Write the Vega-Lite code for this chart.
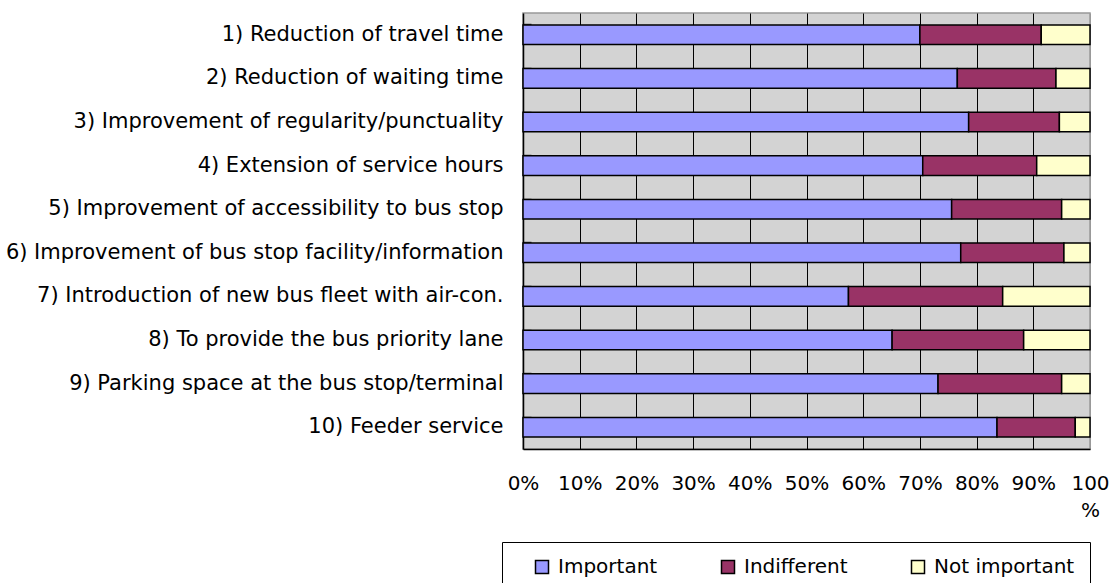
{
  "$schema": "https://vega.github.io/schema/vega-lite/v6.json",
  "autosize": "none",
  "width": 567,
  "height": 436,
  "padding": {"left": 523, "top": 13, "right": 22, "bottom": 134},
  "background": "white",
  "config": {
    "view": {"fill": "#d3d3d3", "stroke": "#999999", "strokeWidth": 1.5},
    "font": "DejaVu Sans"
  },
  "data": {
    "values": [
      {"item": "1) Reduction of travel time", "response": "Important", "k": 1, "pct": 70.0},
      {"item": "1) Reduction of travel time", "response": "Indifferent", "k": 2, "pct": 21.4},
      {"item": "1) Reduction of travel time", "response": "Not important", "k": 3, "pct": 8.6},
      {"item": "2) Reduction of waiting time", "response": "Important", "k": 1, "pct": 76.6},
      {"item": "2) Reduction of waiting time", "response": "Indifferent", "k": 2, "pct": 17.4},
      {"item": "2) Reduction of waiting time", "response": "Not important", "k": 3, "pct": 6.0},
      {"item": "3) Improvement of regularity/punctuality", "response": "Important", "k": 1, "pct": 78.6},
      {"item": "3) Improvement of regularity/punctuality", "response": "Indifferent", "k": 2, "pct": 16.0},
      {"item": "3) Improvement of regularity/punctuality", "response": "Not important", "k": 3, "pct": 5.4},
      {"item": "4) Extension of service hours", "response": "Important", "k": 1, "pct": 70.5},
      {"item": "4) Extension of service hours", "response": "Indifferent", "k": 2, "pct": 20.1},
      {"item": "4) Extension of service hours", "response": "Not important", "k": 3, "pct": 9.4},
      {"item": "5) Improvement of accessibility to bus stop", "response": "Important", "k": 1, "pct": 75.6},
      {"item": "5) Improvement of accessibility to bus stop", "response": "Indifferent", "k": 2, "pct": 19.4},
      {"item": "5) Improvement of accessibility to bus stop", "response": "Not important", "k": 3, "pct": 5.0},
      {"item": "6) Improvement of bus stop facility/information", "response": "Important", "k": 1, "pct": 77.2},
      {"item": "6) Improvement of bus stop facility/information", "response": "Indifferent", "k": 2, "pct": 18.2},
      {"item": "6) Improvement of bus stop facility/information", "response": "Not important", "k": 3, "pct": 4.6},
      {"item": "7) Introduction of new bus fleet with air-con.", "response": "Important", "k": 1, "pct": 57.4},
      {"item": "7) Introduction of new bus fleet with air-con.", "response": "Indifferent", "k": 2, "pct": 27.2},
      {"item": "7) Introduction of new bus fleet with air-con.", "response": "Not important", "k": 3, "pct": 15.4},
      {"item": "8) To provide the bus priority lane", "response": "Important", "k": 1, "pct": 65.1},
      {"item": "8) To provide the bus priority lane", "response": "Indifferent", "k": 2, "pct": 23.2},
      {"item": "8) To provide the bus priority lane", "response": "Not important", "k": 3, "pct": 11.7},
      {"item": "9) Parking space at the bus stop/terminal", "response": "Important", "k": 1, "pct": 73.2},
      {"item": "9) Parking space at the bus stop/terminal", "response": "Indifferent", "k": 2, "pct": 21.8},
      {"item": "9) Parking space at the bus stop/terminal", "response": "Not important", "k": 3, "pct": 5.0},
      {"item": "10) Feeder service", "response": "Important", "k": 1, "pct": 83.6},
      {"item": "10) Feeder service", "response": "Indifferent", "k": 2, "pct": 13.8},
      {"item": "10) Feeder service", "response": "Not important", "k": 3, "pct": 2.6}
    ]
  },
  "mark": {"type": "bar", "stroke": "black", "strokeWidth": 1.5, "opacity": 1},
  "encoding": {
    "y": {
      "field": "item",
      "type": "nominal",
      "sort": null,
      "scale": {"paddingInner": 0.55, "paddingOuter": 0.275},
      "axis": {
        "title": null,
        "bandPosition": 0,
        "domain": true,
        "domainColor": "black",
        "domainWidth": 1.5,
        "ticks": true,
        "tickSize": -8,
        "tickColor": "#333333",
        "tickWidth": 1.5,
        "labelPadding": 28,
        "labelFont": "DejaVu Sans",
        "labelFontSize": 21,
        "labelColor": "black",
        "labelLimit": 600,
        "grid": false
      }
    },
    "x": {
      "field": "pct",
      "type": "quantitative",
      "stack": "normalize",
      "scale": {"domain": [0, 1], "nice": false},
      "axis": {
        "title": null,
        "values": [0, 0.1, 0.2, 0.3, 0.4, 0.5, 0.6, 0.7, 0.8, 0.9, 1],
        "format": ".0%",
        "labelExpr": "datum.value >= 0.999 ? ['100', '%'] : datum.label",
        "labelFont": "DejaVu Sans",
        "labelFontSize": 20,
        "labelColor": "black",
        "labelLineHeight": 27,
        "labelPadding": 24,
        "labelFlush": false,
        "labelOverlap": false,
        "ticks": false,
        "domain": true,
        "domainColor": "black",
        "domainWidth": 1.5,
        "grid": true,
        "gridColor": {"condition": {"test": "datum.value >= 0.999 || datum.value <= 0.001", "value": "#999999"}, "value": "black"},
        "gridWidth": 1,
        "gridOpacity": 1
      }
    },
    "color": {
      "field": "response",
      "type": "nominal",
      "sort": ["Important", "Indifferent", "Not important"],
      "scale": {"domain": ["Important", "Indifferent", "Not important"], "range": ["#9999ff", "#993366", "#ffffcc"]},
      "legend": {
        "orient": "none",
        "legendX": -21,
        "legendY": 529,
        "direction": "horizontal",
        "columns": 3,
        "columnPadding": 60,
        "padding": 15,
        "strokeColor": "black",
        "fillColor": "white",
        "title": " ",
        "titleOrient": "left",
        "titleFontSize": 4,
        "titlePadding": 15,
        "symbolType": "square",
        "symbolSize": 169,
        "symbolStrokeColor": "black",
        "symbolStrokeWidth": 1.5,
        "symbolOpacity": 1,
        "labelOffset": 6,
        "labelFont": "DejaVu Sans",
        "labelFontSize": 20,
        "labelColor": "black",
        "labelLimit": 400,
        "labelExpr": "datum.label == 'Not important' ? 'Not important               ' : datum.label"
      }
    },
    "order": {"field": "k", "type": "quantitative"}
  }
}
